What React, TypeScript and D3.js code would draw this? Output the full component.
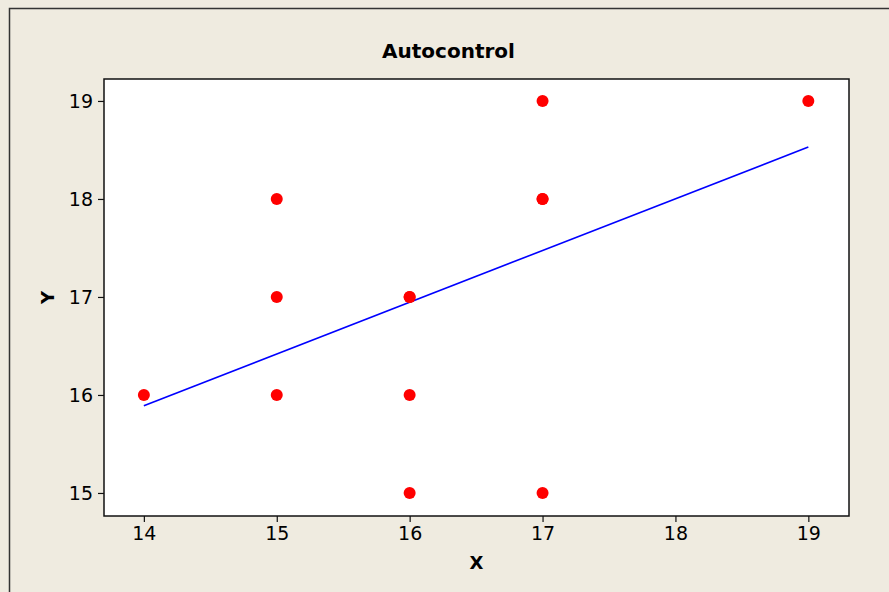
import React, { useEffect, useRef } from 'react';
import * as d3 from 'd3';

// Observed points (duplicates drawn on top of each other)
const xValues = [14, 15, 15, 15, 16, 16, 16, 16, 17, 17, 17, 17, 19];
const yValues = [16, 18, 17, 16, 17, 17, 16, 15, 19, 18, 18, 15, 19];

// Fitted regression line, read at its two ends
const fitX = [14, 19];
const fitY = [15.89, 18.53];

const xTicks = [14, 15, 16, 17, 18, 19];
const yTicks = [15, 16, 17, 18, 19];

const App = () => {
  const chartRef = useRef<SVGSVGElement | null>(null);

  useEffect(() => {
    document.body.style.margin = '0';

    const width = 889;
    const height = 592;
    const margin = { top: 79, right: 40, bottom: 76, left: 104 };

    const svg = d3.select(chartRef.current);
    svg.selectAll('*').remove();
    svg.attr('width', width).attr('height', height);

    // outer frame
    svg.append('rect')
      .attr('x', 0).attr('y', 0).attr('width', width).attr('height', height)
      .attr('fill', '#efebe0');
    svg.append('rect')
      .attr('x', 9.5).attr('y', 8.5).attr('width', width + 20).attr('height', height + 20)
      .attr('fill', 'none')
      .attr('stroke', '#333')
      .attr('stroke-width', 1.5);

    const xScale = d3.scaleLinear()
      .domain([13.7, 19.306])
      .range([margin.left, width - margin.right]);
    const yScale = d3.scaleLinear()
      .domain([14.765, 19.224])
      .range([height - margin.bottom, margin.top]);

    // plot area
    svg.append('rect')
      .attr('x', margin.left).attr('y', margin.top)
      .attr('width', width - margin.left - margin.right)
      .attr('height', height - margin.top - margin.bottom)
      .attr('fill', 'white')
      .attr('stroke', '#111')
      .attr('stroke-width', 1.5);

    const font = '"DejaVu Sans", Verdana, sans-serif';

    const xAxis = svg.append('g')
      .attr('transform', `translate(0,${height - margin.bottom})`)
      .call(d3.axisBottom(xScale).tickValues(xTicks).tickSize(6).tickPadding(5).tickFormat(d3.format('d')));
    const yAxis = svg.append('g')
      .attr('transform', `translate(${margin.left},0)`)
      .call(d3.axisLeft(yScale).tickValues(yTicks).tickSize(6).tickPadding(5).tickFormat(d3.format('d')));

    [xAxis, yAxis].forEach(g => {
      g.select('.domain').remove();
      g.selectAll('line').attr('stroke', '#111').attr('stroke-width', 1.2);
      g.selectAll('text')
        .attr('fill', '#000')
        .style('font-family', font)
        .style('font-size', '19px');
    });

    // regression line
    const line = d3.line<number>()
      .x(d => xScale(fitX[d]))
      .y(d => yScale(fitY[d]));
    svg.append('path')
      .attr('d', line([0, 1]))
      .attr('fill', 'none')
      .attr('stroke', '#0000ff')
      .attr('stroke-width', 1.6);

    // points
    svg.selectAll('circle.pt')
      .data(xValues.map((x, i) => ({ x, y: yValues[i] })))
      .enter()
      .append('circle')
      .attr('class', 'pt')
      .attr('cx', d => xScale(d.x))
      .attr('cy', d => yScale(d.y))
      .attr('r', 6)
      .attr('fill', '#ff0000');

    // title and axis labels
    svg.append('text')
      .attr('x', 448.5).attr('y', 58)
      .attr('text-anchor', 'middle')
      .style('font-family', font)
      .style('font-weight', 'bold')
      .style('font-size', '20px')
      .attr('fill', '#000')
      .text('Autocontrol');

    svg.append('text')
      .attr('x', (margin.left + width - margin.right) / 2).attr('y', 569)
      .attr('text-anchor', 'middle')
      .style('font-family', font)
      .style('font-weight', 'bold')
      .style('font-size', '18px')
      .attr('fill', '#000')
      .text('X');

    svg.append('text')
      .attr('transform', `translate(54,${(margin.top + height - margin.bottom) / 2}) rotate(-90)`)
      .attr('text-anchor', 'middle')
      .style('font-family', font)
      .style('font-weight', 'bold')
      .style('font-size', '18px')
      .attr('fill', '#000')
      .text('Y');
  }, []);

  return <svg ref={chartRef} style={{ display: 'block' }}></svg>;
};

export default App;
